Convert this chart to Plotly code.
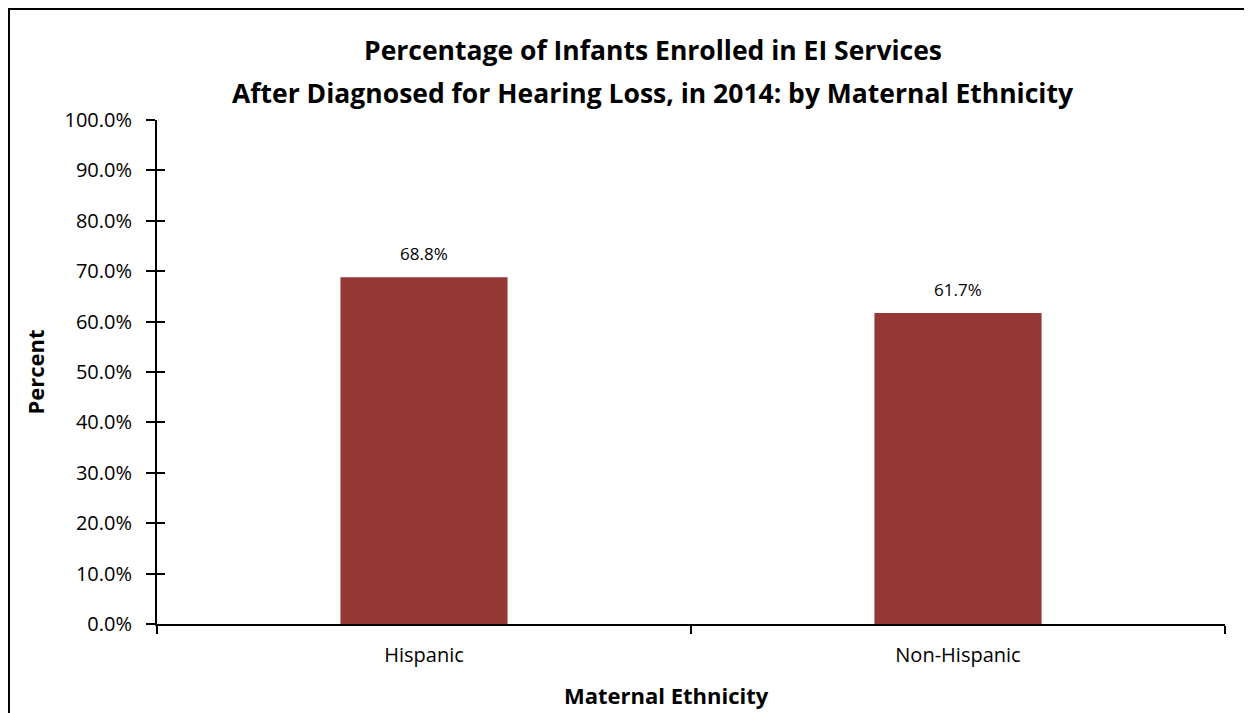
import plotly.graph_objects as go

categories = ["Hispanic", "Non-Hispanic"]
values = [68.8, 61.7]
tick_vals = [0, 10, 20, 30, 40, 50, 60, 70, 80, 90, 100]
tick_text = [f"{v:.1f}%" for v in tick_vals]
title_lines = ["Percentage of Infants Enrolled in EI Services",
               "After Diagnosed for Hearing Loss, in 2014: by Maternal Ethnicity"]
x_title = "Maternal Ethnicity"
y_title = "Percent"

FONT = "Open Sans"
BAR = "#953735"

fig = go.Figure()
fig.add_trace(go.Bar(x=categories, y=values, marker=dict(color=BAR, line=dict(width=0)),
                     width=0.313, hoverinfo="skip"))
fig.add_trace(go.Scatter(x=[None], y=[None], yaxis="y2", showlegend=False, hoverinfo="skip"))

for c, v in zip(categories, values):
    fig.add_annotation(x=c, y=v, text=f"{v:.1f}%", showarrow=False, yanchor="bottom",
                       yshift=10, font=dict(family=FONT, size=17, color="#000000"))

for line, ypos in zip(title_lines, [1.1389, 1.0536]):
    fig.add_annotation(xref="paper", yref="paper", x=0.464, y=ypos, text=f"<b>{line}</b>",
                       showarrow=False, xanchor="center", yanchor="middle",
                       font=dict(family=FONT, size=26.5, color="#000000"))

fig.add_annotation(xref="paper", yref="paper", x=0.4766, y=-0.1409, text=f"<b>{x_title}</b>",
                   showarrow=False, xanchor="center", yanchor="middle",
                   font=dict(family=FONT, size=22, color="#000000"))

fig.update_layout(
    width=1252, height=713,
    margin=dict(l=149, r=35, t=112, b=97),
    paper_bgcolor="white", plot_bgcolor="white",
    showlegend=False,
    font=dict(family=FONT, color="#000000"),
    xaxis=dict(showgrid=False, showline=True, linecolor="#000000", linewidth=2,
               ticks="outside", tickson="boundaries", ticklen=8, tickwidth=2, tickcolor="#000000",
               tickfont=dict(family=FONT, size=20), ticklabelstandoff=12),
    yaxis=dict(range=[0, 100], showgrid=False, showline=True, linecolor="#000000", linewidth=2,
               tickmode="array", tickvals=tick_vals, ticktext=tick_text,
               ticks="outside", ticklen=9, tickwidth=2, tickcolor="#000000",
               tickfont=dict(family=FONT, size=20), ticklabelstandoff=10, zeroline=False,
               title=dict(text=f"<b>{y_title}</b>", font=dict(family=FONT, size=22), standoff=14)),
    yaxis2=dict(range=[0, 100], overlaying="y", side="left", showgrid=False, showline=False,
                tickmode="array", tickvals=tick_vals, ticks="inside", ticklen=8, tickwidth=2,
                tickcolor="#000000", showticklabels=False, zeroline=False),
)

fig.add_shape(type="rect", xref="paper", yref="paper", x0=-0.1386, y0=-0.4, x1=1.2, y1=1.2202,
              line=dict(color="#000000", width=2), fillcolor="rgba(0,0,0,0)", layer="below")

fig.write_html("out.html")
